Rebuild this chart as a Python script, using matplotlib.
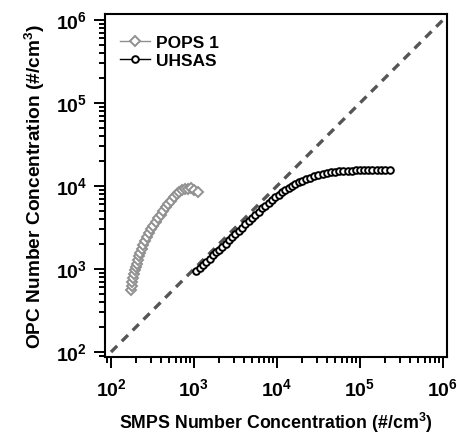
import math
import matplotlib
matplotlib.use("Agg")
import matplotlib.pyplot as plt
import matplotlib.ticker as mticker

plt.rcParams['font.family'] = ['Liberation Sans', 'DejaVu Sans']
plt.rcParams['mathtext.fontset'] = 'custom'
plt.rcParams['mathtext.rm'] = 'Liberation Sans:bold'
plt.rcParams['mathtext.bf'] = 'Liberation Sans:bold'

# POPS 1 (gray diamonds)
pops_smps = [175, 178, 181, 185, 189, 193, 198, 204, 210, 217, 225, 234, 244,
             256, 270, 286, 304, 324, 346, 370, 396, 424, 455, 490, 528, 570,
             616, 665, 718, 775, 845, 920, 1000, 1120]
pops_opc = [560, 620, 700, 780, 870, 960, 1060, 1160, 1280, 1420, 1580, 1760,
            1960, 2180, 2430, 2700, 3000, 3330, 3700, 4100, 4530, 5000, 5520,
            6080, 6680, 7300, 7900, 8450, 8850, 9100, 9300, 9350, 9050, 8500]

# UHSAS (black circles)
uhsas_smps = [1072, 1175, 1288, 1413, 1549, 1698, 1862, 1995, 2188, 2399,
              2630, 2884, 3162, 3467, 3802, 4169, 4571, 5012, 5495, 6026,
              6607, 7244, 7943, 8710, 9550, 10470, 11480, 12590, 13800, 15140,
              16600, 18200, 19950, 22390, 25120, 28180, 31620, 35480, 39810,
              44670, 50120, 56230, 63100, 70790, 79430, 89130, 100000, 112200,
              125900, 141300, 158500, 177800, 199500, 229100]
uhsas_opc = [944, 1028, 1122, 1225, 1337, 1459, 1592, 1698, 1854, 2023,
             2213, 2415, 2630, 2884, 3162, 3467, 3802, 4169, 4519, 4898,
             5370, 5821, 6310, 6839, 7413, 7852, 8414, 8913, 9441, 9954,
             10470, 11020, 11480, 12080, 12590, 13120, 13650, 14000, 14290,
             14550, 14790, 14960, 15140, 15240, 15350, 15420, 15490, 15520,
             15560, 15600, 15630, 15670, 15700, 15780]

one_to_one = [100, 1e6]

fig = plt.figure(figsize=(4.57, 4.35), dpi=100)
ax = fig.add_axes([0.2298, 0.177, 0.7482, 0.7885])

ax.plot(one_to_one, one_to_one, color='#555555', lw=2.4,
        dashes=(2.6, 2.0), zorder=1)
ax.plot(pops_smps, pops_opc, color='#909090', lw=1.0, marker='D',
        ms=4.8, mfc='white', mec='#909090', mew=1.4, label='POPS 1', zorder=2)
ax.plot(uhsas_smps, uhsas_opc, color='black', lw=1.0, marker='o',
        ms=4.8, mfc='white', mec='black', mew=1.4, label='UHSAS', zorder=3)

ax.set_xscale('log')
ax.set_yscale('log')
ax.set_xlim(84.7, 1.117e6)
ax.set_ylim(87.1, 1.18e6)

fmt = mticker.FuncFormatter(lambda v, p: r'$10^{%d}$' % round(math.log10(v)))
ax.xaxis.set_major_locator(mticker.LogLocator(base=10))
ax.yaxis.set_major_locator(mticker.LogLocator(base=10))
ax.xaxis.set_minor_locator(mticker.LogLocator(base=10, subs=range(2, 10)))
ax.yaxis.set_minor_locator(mticker.LogLocator(base=10, subs=range(2, 10)))
ax.xaxis.set_major_formatter(fmt)
ax.yaxis.set_major_formatter(fmt)
ax.xaxis.set_minor_formatter(mticker.NullFormatter())
ax.yaxis.set_minor_formatter(mticker.NullFormatter())

ax.tick_params(which='both', direction='out', width=1.4, top=False, right=False,
               labelsize=14)
ax.tick_params(axis='x', which='major', length=8, pad=7)
ax.tick_params(axis='y', which='major', length=8, pad=5)
ax.tick_params(which='minor', length=4.5)
for s in ax.spines.values():
    s.set_linewidth(1.5)

ax.set_xlabel(r'SMPS Number Concentration (#/cm$^{3}$)', fontsize=12.8,
              fontweight='bold', labelpad=7)
ax.set_ylabel(r'OPC Number Concentration (#/cm$^{3}$)', fontsize=13.8,
              fontweight='bold', labelpad=6)

leg = ax.legend(loc='upper left', bbox_to_anchor=(0.045, 0.94), frameon=False,
                fontsize=12.5, handlelength=1.7, handletextpad=0.35,
                labelspacing=0.2, borderpad=0, borderaxespad=0)
for t in leg.get_texts():
    t.set_fontweight('bold')

fig.savefig('out.png', dpi=100)
